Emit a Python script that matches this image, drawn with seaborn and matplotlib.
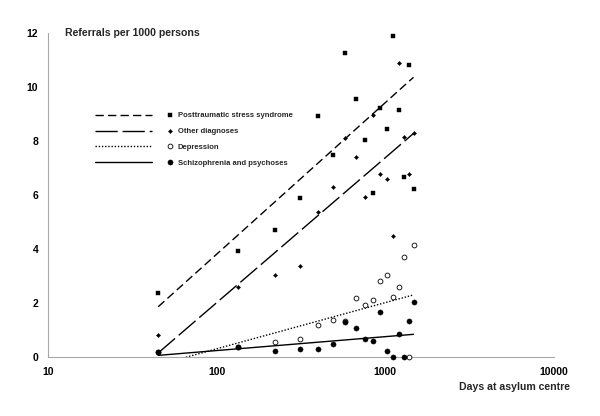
import matplotlib
matplotlib.use("Agg")
import matplotlib.pyplot as plt
import seaborn as sns
import pandas as pd
from matplotlib.legend_handler import HandlerBase
from matplotlib.lines import Line2D

# ---- data ----
days = [45, 134, 223, 312, 401, 490, 579, 668, 757, 846, 935, 1024, 1113, 1202, 1291, 1380, 1469]
ptsd = [2.38, 3.94, 4.70, 5.90, 8.91, 7.48, 11.25, 9.57, 8.02, 6.07, 9.23, 8.46, 11.89, 9.15, 6.68, 10.81, 6.21]
other = [0.80, 2.60, 3.05, 3.37, 5.38, 6.31, 8.11, 7.40, 5.94, 8.96, 6.78, 6.58, 4.49, 10.90, 8.16, 6.77, 8.28]
depression = [0.19, 0.36, 0.57, 0.68, 1.17, 1.37, 1.32, 2.17, 1.91, 2.11, 2.81, 3.04, 2.23, 2.59, 3.69, 0.00, 4.14]
schizo = [0.19, 0.36, 0.22, 0.31, 0.31, 0.47, 1.30, 1.07, 0.68, 0.59, 1.68, 0.22, 0.00, 0.85, 0.00, 1.33, 2.05]

trend_days = [45, 1469]
ptsd_trend = [1.86, 10.36]
other_trend = [0.15, 8.28]
depression_trend = [-0.29, 2.30]
schizo_trend = [0.06, 0.84]

labels = ["Posttraumatic stress syndrome", "Other diagnoses", "Depression", "Schizophrenia and psychoses"]
x_ticks = [10, 100, 1000, 10000]
x_ticklabels = ["10", "100", "1000", "10000"]
y_ticks = [0, 2, 4, 6, 8, 10, 12]

# ---- styles ----
line_styles = [(0, (6, 3)), (0, (16, 3.5)), (0, (1, 1.3)), "-"]
marker_styles = [
    dict(marker="s", s=12, color="black", edgecolor="black", linewidth=0.3),
    dict(marker="D", s=4.5, color="black", edgecolor="black", linewidth=0.3),
    dict(marker="o", s=12, facecolor="white", edgecolor="black", linewidth=0.6),
    dict(marker="o", s=14, color="black", edgecolor="black", linewidth=0.3),
]

sns.set_style("white")
plt.rcParams["font.family"] = ["Liberation Sans", "DejaVu Sans"]
plt.rcParams["font.weight"] = "bold"

fig = plt.figure(figsize=(6, 4.16), dpi=100)
ax = fig.add_axes([48 / 600, 1 - 357 / 416, (554 - 48) / 600, (357 - 33) / 416])

series = [ptsd, other, depression, schizo]
trends = [ptsd_trend, other_trend, depression_trend, schizo_trend]

for tr, ls in zip(trends, line_styles):
    sns.lineplot(x=trend_days, y=tr, ax=ax, color="black", linewidth=1.0, linestyle=ls)

for vals, mk in zip(series, marker_styles):
    sns.scatterplot(x=days, y=vals, ax=ax, clip_on=False, zorder=3, **mk)

ax.set_xscale("log")
ax.set_xlim(10, 10000)
ax.set_ylim(0, 12)
ax.set_xticks(x_ticks)
ax.set_xticklabels(x_ticklabels)
ax.minorticks_off()
ax.set_yticks(y_ticks)

for side in ["top", "right"]:
    ax.spines[side].set_visible(False)
for side in ["left", "bottom"]:
    ax.spines[side].set_color("#a8a8a8")
    ax.spines[side].set_linewidth(0.8)
ax.tick_params(axis="both", which="both", direction="out", length=3, width=0.8,
               color="#a8a8a8", labelsize=7.5, labelcolor="black")
ax.tick_params(axis="x", pad=4.0)
ax.tick_params(axis="y", pad=4.0)
for t in ax.get_xticklabels() + ax.get_yticklabels():
    t.set_fontweight("bold")

ax.set_ylabel("Referrals per 1000 persons", rotation=0, ha="left", va="center",
              fontsize=7.6, fontweight="bold")
ax.yaxis.set_label_coords(17 / 506, 1.0)
ax.set_xlabel("Days at asylum centre", ha="right", va="center", fontsize=7.6, fontweight="bold")
ax.xaxis.set_label_coords((570 - 48) / 506, -(387 - 357) / 324)


# ---- legend: line sample, then marker, then text ----
class LineMarkerHandler(HandlerBase):
    def create_artists(self, legend, orig_handle, xdescent, ydescent, width, height, fontsize, trans):
        ls, mk = orig_handle
        y = height / 2 - ydescent
        x0 = -xdescent
        ln = Line2D([x0, x0 + width * 0.73], [y, y], color="black", linewidth=1.0, linestyle=ls)
        ms = (mk["s"]) ** 0.5
        fc = mk.get("facecolor", "black")
        m = Line2D([x0 + width - 2], [y], marker=mk["marker"], markersize=ms,
                   markerfacecolor=fc, markeredgecolor="black",
                   markeredgewidth=mk.get("linewidth", 0.3), linestyle="none")
        ln.set_transform(trans)
        m.set_transform(trans)
        return [ln, m]


handles = [(ls, mk) for ls, mk in zip(line_styles, marker_styles)]
leg = ax.legend(handles, labels, handler_map={tuple: LineMarkerHandler()},
                loc="upper left", bbox_to_anchor=(95 / 600, 1 - 112 / 416),
                bbox_transform=fig.transFigure, frameon=False, fontsize=5.5,
                handlelength=10.2, handletextpad=0.6, labelspacing=1.12,
                borderpad=0, borderaxespad=0)
for t in leg.get_texts():
    t.set_fontweight("bold")

fig.savefig("out.png", dpi=100)
